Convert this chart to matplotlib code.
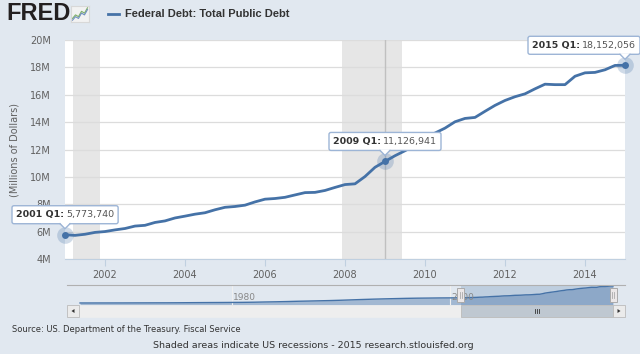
import matplotlib.pyplot as plt
from matplotlib.patches import Rectangle, Polygon, FancyBboxPatch
from matplotlib.transforms import IdentityTransform

# Federal debt, total public debt (millions of dollars), quarterly 2001 Q1 - 2015 Q1
start_year = 2001
debt = [5773740, 5726815, 5807463, 5943439,
        6006032, 6126469, 6228236, 6405707,
        6460776, 6670121, 6783231, 6997964,
        7131068, 7274335, 7379053, 7596144,
        7776939, 7836496, 7932710, 8170414,
        8371156, 8420042, 8507026, 8680224,
        8849665, 8867674, 9007653, 9229172,
        9437594, 9492006, 10024725, 10699805,
        11126941, 11545275, 11909829, 12311350,
        12773123, 13201790, 13561623, 14025215,
        14270259, 14342891, 14790340, 15222940,
        15582079, 15855519, 16066241, 16432730,
        16771408, 16738184, 16738184, 17351971,
        17601227, 17632606, 17824071, 18141444,
        18152056]

# navigator history, annual 1966-2000 (millions of dollars)
nav_years = list(range(1966, 2001))
nav_debt = [320000, 326000, 348000, 354000, 371000, 408000, 436000, 466000,
            484000, 541000, 629000, 706000, 776000, 829000, 909000, 995000,
            1137000, 1372000, 1564000, 1817000, 2120000, 2346000, 2601000,
            2868000, 3206000, 3598000, 4002000, 4351000, 4643000, 4921000,
            5181000, 5369000, 5478000, 5606000, 5662000]

recessions = [(2001.2, 2001.875), (2007.92, 2009.42)]
y_ticks = [4e6, 6e6, 8e6, 10e6, 12e6, 14e6, 16e6, 18e6, 20e6]
x_ticks = [2002, 2004, 2006, 2008, 2010, 2012, 2014]
highlight = [0, 32, 56]          # 2001 Q1, 2009 Q1, 2015 Q1
tip_left = [-53, -56, -97]       # tooltip box offsets (px)

xq = [start_year + i / 4 for i in range(len(debt))]
qlabel = ['%d Q%d' % (start_year + i // 4, i % 4 + 1) for i in range(len(debt))]

W, H = 640, 354
BG = '#E1E8F0'
BLUE = '#4572A7'
ID = IdentityTransform()


def box(l, t, r, b):
    return [l / W, 1 - b / H, (r - l) / W, (b - t) / H]


fig = plt.figure(figsize=(6.4, 3.54), dpi=100, facecolor=BG)

# ---- main chart
ax = fig.add_axes(box(65, 40, 625, 259))
ax.set_facecolor('white')
for a, b in recessions:
    ax.axvspan(a, b, color='#E6E6E6', lw=0, zorder=0)
ax.set_xlim(xq[0], xq[-1])
ax.set_ylim(4e6, 20e6)
ax.set_yticks(y_ticks)
ax.set_yticklabels(['%dM' % (v / 1e6) for v in y_ticks])
ax.set_xticks(x_ticks)
ax.grid(axis='y', color='#DCDCDC', lw=0.9, zorder=1)
ax.set_axisbelow(True)
ax.axvline(xq[32], color='#C0C0C0', lw=1, zorder=2)
ax.plot(xq, debt, color=BLUE, lw=2, zorder=3, solid_capstyle='round')
for s in ['top', 'left', 'right']:
    ax.spines[s].set_visible(False)
ax.spines['bottom'].set_color('#C0D0E0')
ax.tick_params(axis='x', length=5, color='#C0D0E0', labelsize=7, labelcolor='#606060', pad=3)
ax.tick_params(axis='y', length=0, labelsize=7, labelcolor='#606060', pad=10)

fig.text(15 / W, 1 - 150 / H, '(Millions of Dollars)', rotation=90, ha='center', va='center',
         fontsize=7, color='#606060')

# ---- tooltips
renderer = fig.canvas.get_renderer()
for i, off in zip(highlight, tip_left):
    ax.plot([xq[i]], [debt[i]], 'o', ms=12, color=BLUE, alpha=0.25, mew=0, clip_on=False, zorder=4)
    ax.plot([xq[i]], [debt[i]], 'o', ms=5, color=BLUE, mew=0, clip_on=False, zorder=5)
    px, py = ax.transData.transform((xq[i], debt[i]))
    bb, bh = py + 11, 18
    left = px + off
    t1 = fig.text(left + 4, bb + bh / 2, qlabel[i] + ':', transform=ID, fontsize=6.8,
                  fontweight='bold', color='#333333', va='center', zorder=7)
    x1 = t1.get_window_extent(renderer).x1
    t2 = fig.text(x1 + 2, bb + bh / 2, '{:,}'.format(debt[i]), transform=ID, fontsize=6.8,
                  color='#555555', va='center', zorder=7)
    right = t2.get_window_extent(renderer).x1 + 4
    fig.add_artist(FancyBboxPatch((left, bb), right - left, bh, boxstyle='round,pad=0,rounding_size=2',
                                  transform=ID, fc='white', ec='#9DB5D6', lw=1, zorder=6))
    fig.add_artist(Polygon([(px - 5, bb + 1), (px + 5, bb + 1), (px, bb - 5)], closed=True,
                           transform=ID, fc='white', ec='none', zorder=6.5))
    fig.add_artist(plt.Line2D([px - 5, px, px + 5], [bb, bb - 5, bb], transform=ID,
                              color='#9DB5D6', lw=1, zorder=6.6))

# ---- navigator
nav = fig.add_axes(box(67, 285, 625, 305))
nav.patch.set_visible(False)
nav.set_xlim(1964.8, 2016.1)
nav.set_ylim(-1.8e6, 19.2e6)
nav_x = nav_years + xq
nav_y = nav_debt + debt
nav.fill_between(nav_x, nav_y, -1.8e6, color=BLUE, alpha=0.4, lw=0)
nav.plot(nav_x, nav_y, color=BLUE, lw=1)
nav.axvspan(xq[0], xq[-1], color=BLUE, alpha=0.22, lw=0)
nav.set_xticks([1980, 2000])
nav.grid(axis='x', color='#F0F0F0', lw=0.8)
nav.set_xticklabels([])
nav.set_yticks([])
nav.tick_params(length=0)
for yr in [1980, 2000]:
    nav.text(yr + 0.1, 0.35, str(yr), transform=nav.get_xaxis_transform(), fontsize=6.5,
             color='#888888', va='center')
for s in ['bottom', 'left', 'right']:
    nav.spines[s].set_visible(False)
nav.spines['top'].set_color('#B0B0B0')

# scrollbar
xs = nav.transData.transform((xq[0], 0))[0]
xe = nav.transData.transform((xq[-1], 0))[0]
sb_b, sb_h = H - 317, 12
fig.add_artist(Rectangle((78, sb_b), 535, sb_h, transform=ID, fc='#EEEEEE', ec='#EEEEEE', lw=0.5))
fig.add_artist(Rectangle((xs, sb_b), 613 - xs, sb_h, transform=ID, fc='#BFC8D1', ec='#BBBBBB', lw=0.6))
for dx in [-2, 0, 2]:
    cx = (xs + 613) / 2 + dx
    fig.add_artist(plt.Line2D([cx, cx], [sb_b + 4, sb_b + 8], transform=ID, color='#333333', lw=0.6))
for l, d in [(67, -1), (613, 1)]:
    fig.add_artist(Rectangle((l, sb_b), 11.5, sb_h, transform=ID, fc='#EBEBEB', ec='#BBBBBB', lw=0.6))
    cx, cy = l + 6, sb_b + sb_h / 2
    fig.add_artist(Polygon([(cx + 1.5 * d, cy), (cx - 1.5 * d, cy + 2), (cx - 1.5 * d, cy - 2)],
                           transform=ID, fc='#333333', ec='none'))
# handles
for hx in [xs, xe]:
    fig.add_artist(Rectangle((hx - 3.5, H - 302), 7, 14, transform=ID, fc='#EBE7E8', ec='#AAAAAA', lw=0.7,
                             zorder=5))
    for dx in [-1, 1]:
        fig.add_artist(plt.Line2D([hx + dx, hx + dx], [H - 298, H - 292], transform=ID,
                                  color='#AAAAAA', lw=0.6, zorder=6))

# ---- header
fig.text(6 / W, 1 - 14 / H, 'FRED', fontsize=17, fontweight='bold', color='#231F20',
         family='Liberation Sans', va='center')
icon = fig.add_axes(box(71, 6, 89, 22))
icon.set_facecolor('#F2F2F2')
icon.plot([0, 1, 2, 3, 4, 5], [1, 2, 1.5, 3, 2.5, 4], color='#7FB069', lw=0.8)
icon.plot([0, 1, 2, 3, 4, 5], [0.5, 1.5, 1, 2.5, 2, 3.5], color='#6F8FBF', lw=0.8)
icon.set_xlim(-0.5, 5.5)
icon.set_ylim(0, 4.5)
icon.set_xticks([])
icon.set_yticks([])
for s in icon.spines.values():
    s.set_color('#D8D8D8')

fig.add_artist(plt.Line2D([108, 119], [H - 14, H - 14], transform=ID, color=BLUE, lw=2))
fig.text(125 / W, 1 - 14 / H, 'Federal Debt: Total Public Debt', fontsize=8, fontweight='bold',
         color='#333333', va='center', family='Liberation Sans')

# ---- footer
fig.text(12 / W, 1 - 330 / H, 'Source: US. Department of the Treasury. Fiscal Service', fontsize=6,
         color='#333333', va='center')
fig.text(313 / W, 1 - 346 / H, 'Shaded areas indicate US recessions - 2015 research.stlouisfed.org',
         fontsize=6.8, color='#333333', ha='center', va='center')

fig.savefig('out.png', dpi=100, facecolor=BG)
